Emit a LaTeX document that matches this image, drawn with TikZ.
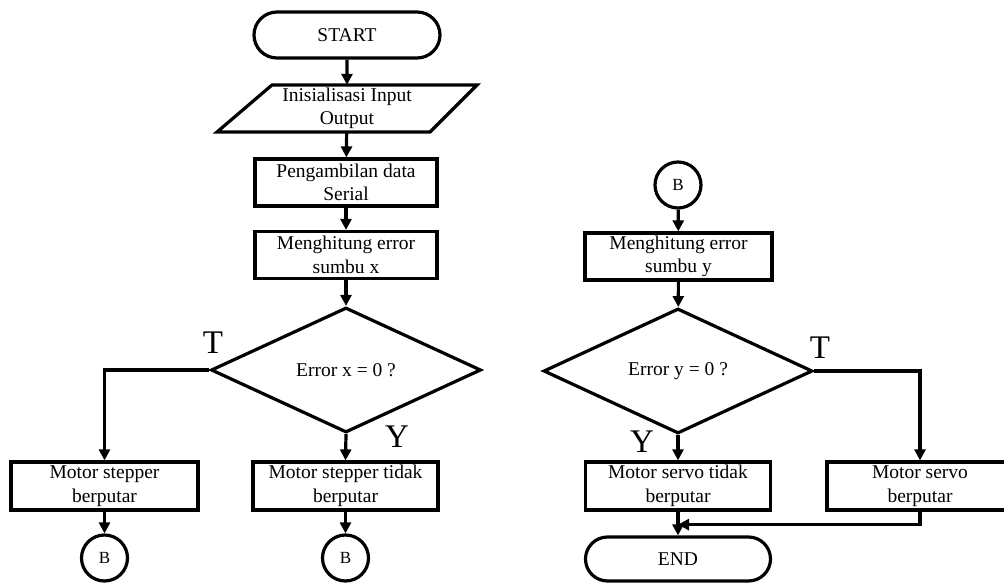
\documentclass[tikz,border=0pt]{standalone}
\usepackage{fontspec}
\setmainfont{Liberation Serif}
\usetikzlibrary{arrows.meta,shapes.geometric,shapes.misc}
\begin{document}
\begin{tikzpicture}[x=1pt,y=-1pt,
  every node/.style={font=\fontsize{19.5}{23.5}\selectfont, align=center, inner sep=0pt},
  procbox/.style={draw, rectangle, line width=3.2pt, minimum height=47pt},
  termbox/.style={draw, rounded rectangle, line width=3.2pt, minimum width=186pt, minimum height=46pt},
  decbox/.style={draw, diamond, line width=3.2pt, minimum width=270pt, minimum height=125pt, aspect=2.15},
  conn/.style={draw, circle, line width=3.2pt, minimum size=46pt, font=\fontsize{17}{20}\selectfont},
  flow/.style={line width=3.2pt, -{Triangle[length=11pt,width=11pt]}},
  branch/.style={font=\fontsize{33}{35}\selectfont}
]
\useasboundingbox (0,0) rectangle (1004,583);
\fill[white] (0,0) rectangle (1004,583);

% ---- left column: measuring error on the x axis ----
\node[termbox] (start) at (347,35) {START};
\node[minimum height=47pt, minimum width=160pt] (io) at (347,108.5) {Inisialisasi Input\\Output};
\draw[line width=3.2pt, line join=miter] (272,85) -- (477,85) -- (430,132) -- (217,132) -- cycle;
\node[procbox, minimum width=182pt] (serial) at (346,182.5) {Pengambilan data\\Serial};
\node[procbox, minimum width=182pt] (errx) at (346,255) {Menghitung error\\sumbu x};
\node[decbox] (decx) at (346,370) {Error x = 0 ?};
\node[procbox, minimum width=187pt, minimum height=48pt] (stepon) at (104.5,486) {Motor stepper\\berputar};
\node[procbox, minimum width=185pt, minimum height=48pt] (stepoff) at (345.5,486) {Motor stepper tidak\\berputar};
\node[conn] (b1) at (104.5,558) {B};
\node[conn] (b2) at (345.5,558) {B};
\node[branch] (tx) at (213,343) {T};
\node[branch] (yx) at (397,437) {Y};

\draw[flow] (start) -- (io);
\draw[flow] (io) -- (serial);
\draw[flow] (serial) -- (errx);
\draw[flow] (errx) -- (decx);
\draw[flow] (decx.west) -| (stepon.north);
\draw[flow] (decx.south) -- (stepoff.north);
\draw[flow] (stepon) -- (b1);
\draw[flow] (stepoff) -- (b2);

% ---- right column: measuring error on the y axis ----
\node[conn] (b3) at (678,185) {B};
\node[procbox, minimum width=187pt] (erry) at (678.5,256.5) {Menghitung error\\sumbu y};
\node[decbox, minimum width=269pt] (decy) at (678,371) {Error y = 0 ?};
\node[procbox, minimum width=185pt, minimum height=48pt] (servooff) at (678,486) {Motor servo tidak\\berputar};
\node[procbox, minimum width=186pt, minimum height=48pt] (servoon) at (920,486) {Motor servo\\berputar};
\node[termbox, minimum width=185pt, minimum height=44pt] (stop) at (678,559) {END};
\node[branch] (ty) at (820,348) {T};
\node[branch] (yy) at (642,442) {Y};
\coordinate (merge) at ([yshift=-13pt]servooff.south);

\draw[flow] (b3) -- (erry);
\draw[flow] (erry) -- (decy);
\draw[flow] (decy.south) -- (servooff.north);
\draw[flow] (decy.east) -| (servoon.north);
\draw[flow] (servooff) -- (stop);
\draw[flow] (servoon.south) |- (merge);
\end{tikzpicture}
\end{document}
